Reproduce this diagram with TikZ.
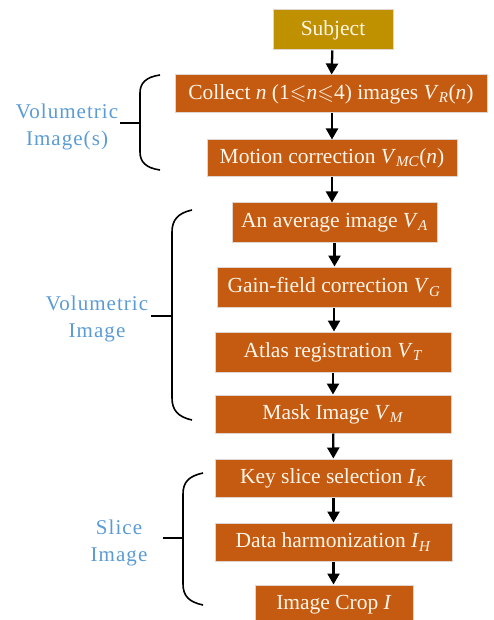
\documentclass[tikz,border=0pt]{standalone}
\usepackage{amssymb}
\usepackage{fontspec}
\setmainfont{Liberation Serif}
\newfontfamily\lblfont{Liberation Serif}[LetterSpace=5]
\usetikzlibrary{arrows.meta}
\definecolor{boxfill}{HTML}{C55A11}
\definecolor{subjfill}{HTML}{BF9000}
\definecolor{boxline}{HTML}{E0D6CF}
\definecolor{boxtext}{HTML}{FFF6EA}
\definecolor{lblblue}{HTML}{5B9BD5}
\tikzset{
  stepbox/.style={rectangle, fill=boxfill, draw=boxline, line width=1pt,
    text=boxtext, font=\fontsize{21.5}{24}\selectfont, inner sep=0pt, minimum height=38pt},
  subjbox/.style={stepbox, fill=subjfill},
  flow/.style={draw=black, line width=2.3pt, -{Triangle[length=11pt,width=12pt]}},
  bracepath/.style={draw=black, line width=1.6pt},
  grouplabel/.style={text=lblblue, font=\lblfont\fontsize{21}{27}\selectfont, align=center}
}
\newcommand{\subI}[2]{\textit{#1}\textsubscript{\textit{#2}}}
\begin{document}
\begin{tikzpicture}[x=1pt,y=-1pt]
\useasboundingbox (0,0) rectangle (493,620);
\begin{scope}
\clip (0,0) rectangle (493,620);
\node[subjbox, minimum width=120pt, minimum height=40pt] (subj) at (333,30) {Subject};
\node[stepbox, minimum width=312pt] (collect) at (331,94) {Collect \textit{n} (1$\leqslant$\textit{n}$\leqslant$4) images \subI{V}{R}(\textit{n})};
\node[stepbox, minimum width=250pt, minimum height=37pt] (motion) at (332,158.5) {Motion correction \subI{V}{MC}(\textit{n})};
\node[stepbox, minimum width=205pt, minimum height=39pt] (avg) at (334.5,222.5) {An average image \subI{V}{A}};
\node[stepbox, minimum width=234pt, minimum height=40pt] (gain) at (334,287) {Gain-field correction \subI{V}{G}};
\node[stepbox, minimum width=236pt, minimum height=40pt] (atlas) at (333,352) {Atlas registration \subI{V}{T}};
\node[stepbox, minimum width=236pt] (mask) at (333,414) {Mask Image \subI{V}{M}};
\node[stepbox, minimum width=237pt] (key) at (333.5,478) {Key slice selection \subI{I}{K}};
\node[stepbox, minimum width=237pt] (harm) at (333.5,542) {Data harmonization \subI{I}{H}};
\node[stepbox, minimum width=158pt, minimum height=40pt] (crop) at (334,605) {Image Crop \textit{I}};
\end{scope}

\draw[flow] (subj) -- (collect);
\draw[flow] (collect.south -| motion.north) -- (motion.north);
\draw[flow] (motion) -- (motion |- avg.north);
\draw[flow] (avg) -- (avg |- gain.north);
\draw[flow] (gain) -- (gain |- atlas.north);
\draw[flow] (atlas) -- (mask);
\draw[flow] (mask) -- (key);
\draw[flow] (key) -- (harm);
\draw[flow] (harm) -- (harm |- crop.north);

% brace 1
\coordinate (b1t) at (160,75);
\coordinate (b1b) at (160,170);
\coordinate (b1m) at (140,123);
\coordinate (b1k) at (120,123);
\draw[bracepath] (b1t) .. controls (146,77) and (140,83) .. (140,93) -- (140,152) .. controls (140,162) and (146,168) .. (b1b);
\draw[bracepath] (b1k) -- (b1m);
\node[grouplabel] (lbl1) at (67,126.5) {Volumetric\\Image(s)};

% brace 2
\coordinate (b2t) at (192,210);
\coordinate (b2b) at (192,420);
\coordinate (b2m) at (172,316);
\coordinate (b2k) at (151,316);
\draw[bracepath] (b2t) .. controls (178,213) and (172,220) .. (172,232) -- (172,398) .. controls (172,410) and (178,417) .. (b2b);
\draw[bracepath] (b2k) -- (b2m);
\node[grouplabel] (lbl2) at (97,318.5) {Volumetric\\Image};

% brace 3
\coordinate (b3t) at (203,473);
\coordinate (b3b) at (203,605);
\coordinate (b3m) at (183,538);
\coordinate (b3k) at (163,538);
\draw[bracepath] (b3t) .. controls (189,476) and (183,482) .. (183,494) -- (183,584) .. controls (183,596) and (189,602) .. (b3b);
\draw[bracepath] (b3k) -- (b3m);
\node[grouplabel] (lbl3) at (119,542.5) {Slice\\Image};
\end{tikzpicture}
\end{document}
